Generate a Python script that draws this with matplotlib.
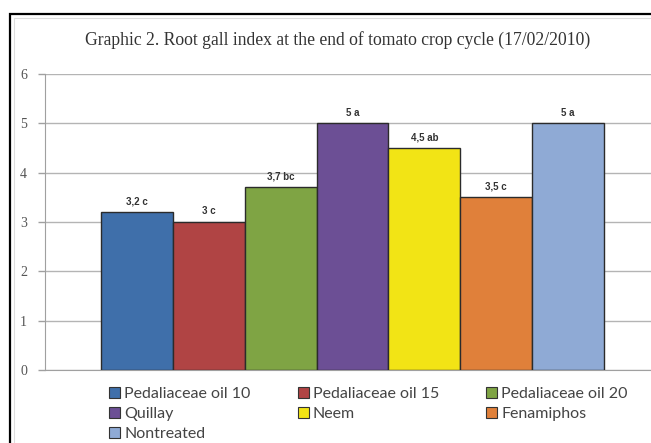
import matplotlib.pyplot as plt
from matplotlib.patches import Rectangle

treatments = ['Pedaliaceae oil 10', 'Pedaliaceae oil 15', 'Pedaliaceae oil 20',
              'Quillay', 'Neem', 'Fenamiphos', 'Nontreated']
gall_index = [3.2, 3.0, 3.7, 5.0, 4.5, 3.5, 5.0]
labels = ['3,2 c', '3 c', '3,7 bc', '5 a', '4,5 ab', '3,5 c', '5 a']
colors = ['#3F6FAA', '#B04444', '#7FA444', '#6C4F95', '#F2E415', '#E0803A', '#8FAAD5']
yticks = [0, 1, 2, 3, 4, 5, 6]

W, H = 651, 443
fig = plt.figure(figsize=(W / 100, H / 100), dpi=100)

# chart frame (cut off at right and bottom in the original)
fig.patches.append(Rectangle((10 / W, -0.2), 1.2, 1.2 - 14 / H, transform=fig.transFigure,
                             fill=False, edgecolor='black', lw=1.6, zorder=0))
fig.patches.append(Rectangle((14 / W, -0.2), 1.2, 1.2 - 18 / H, transform=fig.transFigure,
                             fill=False, edgecolor='#dddddd', lw=0.8, zorder=0))

ax = fig.add_axes([45 / W, 1 - 370 / H, 615 / W, 296 / H])
x = list(range(len(treatments)))
bars = ax.bar(x, gall_index, width=1.0, color=colors, edgecolor='#2b2b2b', lw=1.0, zorder=3)
for b, lab in zip(bars, labels):
    ax.annotate(lab, (b.get_x() + b.get_width() / 2, b.get_height()),
                xytext=(0, 4), textcoords='offset points', ha='center', va='bottom',
                fontsize=7, fontweight='bold', color='#333333', family='Liberation Sans')

ax.set_xlim(-1.28, 7.28)
ax.set_ylim(0, 6)
ax.set_yticks(yticks)
ax.set_xticks([])
ax.yaxis.grid(True, color='#b4b4b4', lw=1.0, zorder=0)
ax.set_axisbelow(True)
for s in ['top', 'right']:
    ax.spines[s].set_visible(False)
ax.spines['left'].set_color('#a0a0a0')
ax.spines['bottom'].set_color('#a0a0a0')
ax.tick_params(axis='y', length=5, width=1, color='#a0a0a0', pad=8,
               labelsize=10, labelcolor='#555555')
for t in ax.get_yticklabels():
    t.set_family('Liberation Serif')

fig.text(338 / W, 1 - 40 / H,
         'Graphic 2. Root gall index at the end of tomato crop cycle (17/02/2010)',
         ha='center', va='center', fontsize=12.7, family='Liberation Serif', color='#333333')

# legend filled row-wise like the original
order = [0, 3, 6, 1, 4, 2, 5]
handles = [Rectangle((0, 0), 1, 1, facecolor=colors[i], edgecolor='#333333', lw=0.8) for i in order]
fig.legend(handles, [treatments[i] for i in order], ncol=3, frameon=False,
           loc='upper left', bbox_to_anchor=(101 / W, 1 - 379 / H), borderpad=0,
           prop={'family': 'Lato', 'size': 11.5}, labelcolor='#444444',
           handlelength=0.7, handleheight=0.7, handletextpad=0.25,
           columnspacing=2.95, labelspacing=0.36)

fig.savefig('out.png', dpi=100)
